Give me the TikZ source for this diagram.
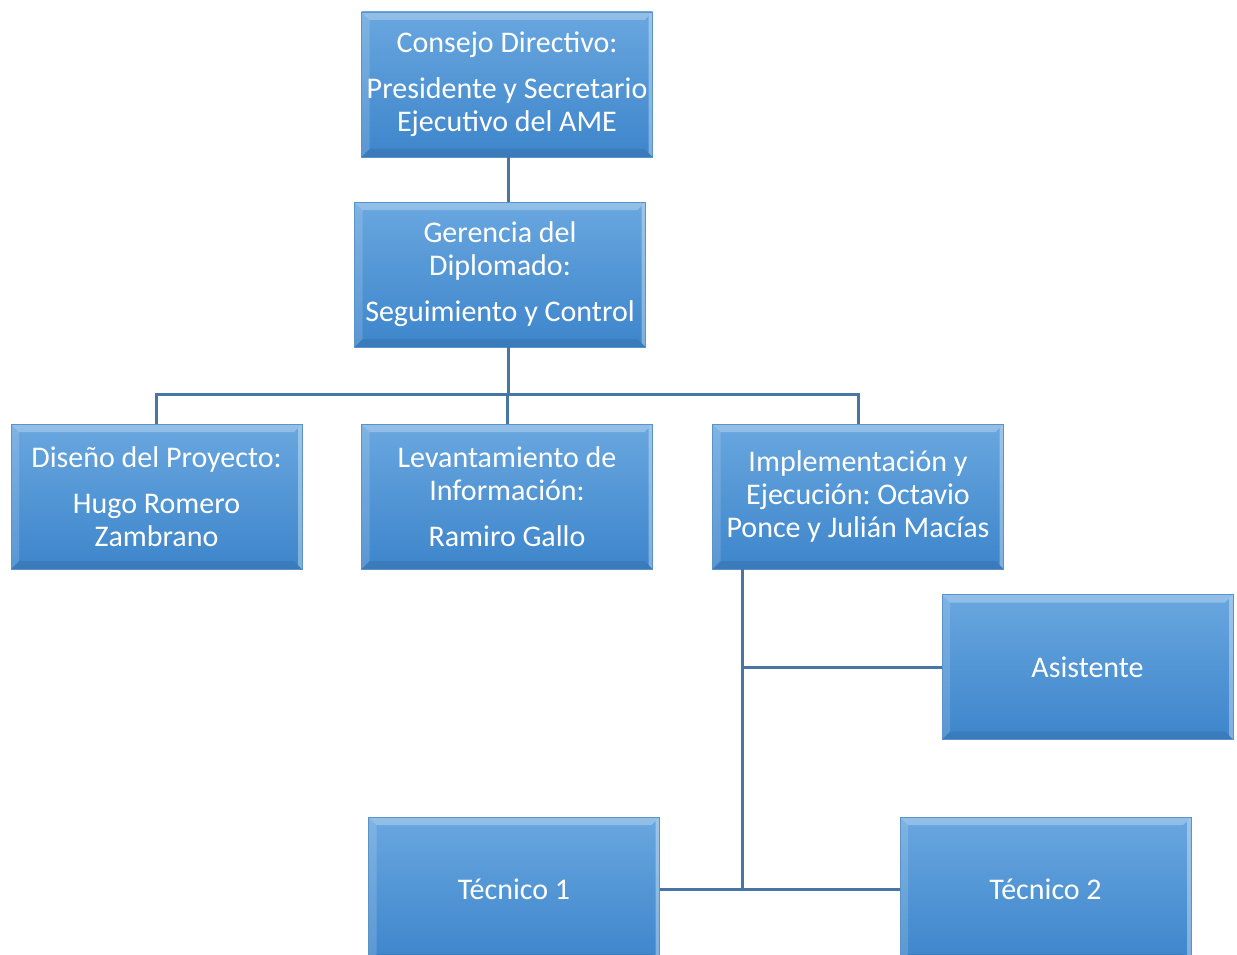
\documentclass[tikz,border=0pt]{standalone}
\usepackage{fontspec}
\setmainfont{Carlito}
\frenchspacing
\definecolor{boxtop}{HTML}{69A7DF}
\definecolor{boxbot}{HTML}{3D85CB}
\definecolor{conncol}{HTML}{4776A6}
\definecolor{boxedge}{HTML}{5B93C8}
\tikzset{
  orgbox/.style={rectangle, minimum width=291pt, minimum height=145pt, inner sep=0pt,
    top color=boxtop, bottom color=boxbot, draw=boxedge, line width=0.6pt,
    text=white, align=center, font=\fontsize{30}{33}\selectfont,
    path picture={
      \fill[white,opacity=0.28] (path picture bounding box.north west) -- (path picture bounding box.north east)
        -- ([xshift=-8pt,yshift=-8pt]path picture bounding box.north east) -- ([xshift=8pt,yshift=-8pt]path picture bounding box.north west) -- cycle;
      \fill[white,opacity=0.15] (path picture bounding box.north west) -- ([xshift=8pt,yshift=-8pt]path picture bounding box.north west)
        -- ([xshift=8pt,yshift=8pt]path picture bounding box.south west) -- (path picture bounding box.south west) -- cycle;
      \fill[white,opacity=0.35] (path picture bounding box.north east) -- ([xshift=-4pt,yshift=-4pt]path picture bounding box.north east)
        -- ([xshift=-4pt,yshift=4pt]path picture bounding box.south east) -- (path picture bounding box.south east) -- cycle;
      \fill[black,opacity=0.08] (path picture bounding box.south west) -- (path picture bounding box.south east)
        -- ([xshift=-8pt,yshift=8pt]path picture bounding box.south east) -- ([xshift=8pt,yshift=8pt]path picture bounding box.south west) -- cycle;
    }},
  conn/.style={draw=conncol, line width=3pt}
}
\begin{document}
\begin{tikzpicture}[x=1pt,y=-1pt]
\useasboundingbox (0,0) rectangle (1237,955);
\clip (0,0) rectangle (1237,955);
\fill[white] (0,0) rectangle (1237,955);
\coordinate (bus) at (508,394);
\coordinate (ib) at (742,569);
\node[orgbox] (consejo) at (507,84.5) {Consejo Directivo:\\[13pt]Presidente y Secretario\\Ejecutivo del AME};
\node[orgbox] (gerencia) at (500,274.5) {Gerencia del\\Diplomado:\\[13pt]Seguimiento y Control};
\node[orgbox] (diseno) at (156.5,496.5) {Dise\~no del Proyecto:\\[13pt]Hugo Romero\\Zambrano};
\node[orgbox] (levant) at (507,496.5) {Levantamiento de\\Informaci\'on:\\[13pt]Ramiro Gallo};
\node[orgbox] (implem) at (858,496.5) {Implementaci\'on y\\Ejecuci\'on: Octavio\\Ponce y Juli\'an Mac\'ias};
\node[orgbox] (asist) at (1087.5,667) {Asistente};
\node[orgbox] (tec1) at (514,889.5) {T\'ecnico 1};
\node[orgbox] (tec2) at (1045.5,889.5) {T\'ecnico 2};
\draw[conn] (consejo.south -| bus) -- (gerencia.north -| bus);
\draw[conn] (gerencia.south -| bus) -- (bus);
\draw[conn] (diseno.north) -- (diseno.north |- bus) -- (implem.north |- bus) -- (implem.north);
\draw[conn] (levant.north) -- (levant.north |- bus);
\draw[conn] (ib) -- (ib |- tec1.east);
\draw[conn] (asist.west) -- (asist.west -| ib);
\draw[conn] (tec1.east) -- (tec2.west);
\end{tikzpicture}
\end{document}
